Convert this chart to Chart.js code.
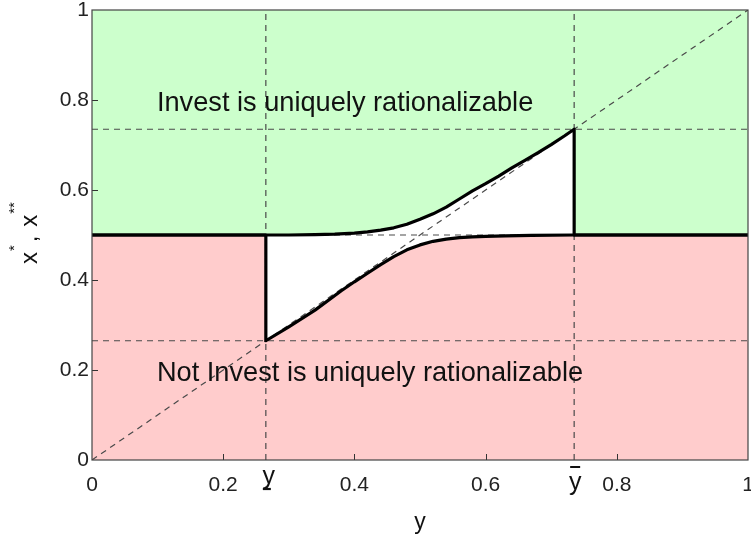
<!DOCTYPE html>
<html>
<head>
<meta charset="utf-8">
<script src="https://cdn.jsdelivr.net/npm/chart.js@4/dist/chart.umd.min.js"></script>
<style>
  html, body { margin: 0; padding: 0; background: #ffffff; }
  #wrap { width: 751px; height: 538px; position: relative; }
</style>
</head>
<body>
<div id="wrap"><canvas id="c" width="751" height="538"></canvas></div>
<script>
// ---- data ----
const Y_LOW = 0.265;    // y underbar
const Y_HIGH = 0.735;   // y overbar
const MID = 0.5;

// upper threshold x** (green region above)
const upperX = [0, 0.265, 0.30, 0.34, 0.37, 0.40, 0.42, 0.44, 0.46, 0.48, 0.50, 0.52, 0.54, 0.56, 0.58, 0.60, 0.62, 0.64, 0.66, 0.68, 0.70, 0.72, 0.735, 0.735, 1];
const upperY = [0.5, 0.5, 0.5, 0.501, 0.502, 0.504, 0.507, 0.511, 0.516, 0.524, 0.535, 0.547, 0.562, 0.580, 0.598, 0.614, 0.631, 0.649, 0.666, 0.683, 0.701, 0.720, 0.735, 0.5, 0.5];

// lower threshold x* (red region below)
const lowerX = [0, 0.265, 0.265, 0.30, 0.34, 0.38, 0.40, 0.42, 0.44, 0.46, 0.48, 0.50, 0.52, 0.54, 0.56, 0.58, 0.60, 0.63, 0.67, 0.735, 1];
const lowerY = [0.5, 0.5, 0.265, 0.296, 0.333, 0.376, 0.396, 0.415, 0.434, 0.452, 0.467, 0.478, 0.486, 0.491, 0.494, 0.496, 0.497, 0.498, 0.499, 0.5, 0.5];

const diagX = [0, 1];
const diagY = [0, 1];

const tickValues = [0, 0.2, 0.4, 0.6, 0.8, 1];
const tickLabels = ['0', '0.2', '0.4', '0.6', '0.8', '1'];

const textInvest = 'Invest is uniquely rationalizable';
const textNotInvest = 'Not Invest is uniquely rationalizable';
const textInvestPos = [0.099, 0.793];
const textNotInvestPos = [0.099, 0.192];
const xTitle = 'y';

// ---- helpers ----
const pts = (xs, ys) => xs.map((x, i) => ({x: x, y: ys[i]}));
const GREEN = '#ccffcc';
const PINK = '#ffcccc';
const DASH = '#4a4a4a';

function dashedDs(data) {
  return {
    data: data, showLine: true, borderColor: DASH, borderWidth: 1.2,
    borderDash: [6, 5], pointRadius: 0, fill: false, tension: 0, order: 2
  };
}

const datasets = [
  {
    label: 'x**', data: pts(upperX, upperY), showLine: true,
    borderColor: '#000', borderWidth: 3.2, pointRadius: 0, tension: 0,
    borderJoinStyle: 'round',
    fill: 'end', backgroundColor: GREEN, order: 0
  },
  {
    label: 'x*', data: pts(lowerX, lowerY), showLine: true,
    borderColor: '#000', borderWidth: 3.2, pointRadius: 0, tension: 0,
    borderJoinStyle: 'round',
    fill: 'start', backgroundColor: PINK, order: 0
  },
  dashedDs(pts(diagX, diagY)),
  dashedDs([{x: 0, y: Y_HIGH}, {x: 1, y: Y_HIGH}]),
  dashedDs([{x: 0, y: Y_LOW}, {x: 1, y: Y_LOW}]),
  dashedDs([{x: 0, y: MID}, {x: 1, y: MID}]),
  dashedDs([{x: Y_LOW, y: 0}, {x: Y_LOW, y: 1}]),
  dashedDs([{x: Y_HIGH, y: 0}, {x: Y_HIGH, y: 1}])
];

const FONT = "'Liberation Sans', Arial, sans-serif";

const decor = {
  id: 'decor',
  afterDatasetsDraw(chart) {
    const ctx = chart.ctx;
    const a = chart.chartArea;
    const xs = chart.scales.x, ys = chart.scales.y;
    ctx.save();
    // inward ticks
    ctx.strokeStyle = '#333';
    ctx.lineWidth = 1;
    tickValues.slice(1, -1).forEach(v => {
      const px = Math.round(xs.getPixelForValue(v)) + 0.5;
      ctx.beginPath(); ctx.moveTo(px, a.bottom); ctx.lineTo(px, a.bottom - 6); ctx.stroke();
      const py = Math.round(ys.getPixelForValue(v)) + 0.5;
      ctx.beginPath(); ctx.moveTo(a.left, py); ctx.lineTo(a.left + 6, py); ctx.stroke();
    });
    // box
    ctx.strokeStyle = '#444';
    ctx.lineWidth = 1.2;
    ctx.strokeRect(a.left, a.top, a.right - a.left, a.bottom - a.top);
    // annotations
    ctx.fillStyle = '#111';
    ctx.font = '27.2px ' + FONT;
    ctx.textBaseline = 'middle';
    ctx.textAlign = 'left';
    ctx.fillText(textInvest, xs.getPixelForValue(textInvestPos[0]), ys.getPixelForValue(textInvestPos[1]));
    ctx.fillText(textNotInvest, xs.getPixelForValue(textNotInvestPos[0]), ys.getPixelForValue(textNotInvestPos[1]));
    ctx.restore();
  },
  afterDraw(chart) {
    const ctx = chart.ctx;
    const a = chart.chartArea;
    const xs = chart.scales.x;
    ctx.save();
    ctx.fillStyle = '#111';
    ctx.strokeStyle = '#111';
    // special x labels
    ctx.font = '25px ' + FONT;
    ctx.textAlign = 'center';
    ctx.textBaseline = 'alphabetic';
    const pLow = xs.getPixelForValue(Y_LOW);
    const pHigh = xs.getPixelForValue(Y_HIGH);
    ctx.fillText('y', pLow + 3, a.bottom + 24);
    ctx.lineWidth = 2.2;
    ctx.beginPath(); ctx.moveTo(pLow - 3, a.bottom + 29); ctx.lineTo(pLow + 5, a.bottom + 29); ctx.stroke();
    ctx.fillText('y', pHigh + 1, a.bottom + 30);
    ctx.lineWidth = 2;
    ctx.beginPath(); ctx.moveTo(pHigh - 4, a.bottom + 7); ctx.lineTo(pHigh + 6, a.bottom + 7); ctx.stroke();
    // x title
    ctx.font = '23px ' + FONT;
    ctx.fillText(xTitle, (a.left + a.right) / 2, 529);
    // y title: x*, x** rotated
    ctx.translate(37, 264);
    ctx.rotate(-Math.PI / 2);
    ctx.textAlign = 'left';
    ctx.textBaseline = 'alphabetic';
    const big = '24px ' + FONT, small = '15px ' + FONT;
    let u = 0;
    ctx.font = big; ctx.fillText('x', u, 0); u += ctx.measureText('x').width + 1;
    ctx.font = small; ctx.textBaseline = 'middle'; ctx.fillText('*', u, -22); u += ctx.measureText('*').width + 3;
    ctx.font = big; ctx.textBaseline = 'alphabetic'; ctx.fillText(',', u, 0); u += ctx.measureText(', ').width + 2;
    ctx.fillText('x', u, 0); u += ctx.measureText('x').width + 1;
    ctx.font = small; ctx.textBaseline = 'middle'; ctx.fillText('**', u, -22);
    ctx.restore();
  }
};

function noPad(s) {
  s.paddingLeft = 0; s.paddingRight = 0; s.paddingTop = 0; s.paddingBottom = 0;
}

new Chart(document.getElementById('c'), {
  type: 'scatter',
  data: { datasets: datasets },
  options: {
    responsive: false,
    animation: false,
    devicePixelRatio: 1,
    layout: { padding: { top: 10, right: 3, left: 0, bottom: 0 } },
    plugins: {
      legend: { display: false },
      tooltip: { enabled: false },
      filler: { drawTime: 'beforeDatasetsDraw', propagate: false }
    },
    scales: {
      x: {
        type: 'linear', min: 0, max: 1,
        afterBuildTicks: s => { s.ticks = tickValues.map(v => ({value: v})); },
        ticks: {
          callback: (v, i) => tickLabels[i],
          font: { size: 21, family: FONT }, color: '#222', padding: 13,
          maxRotation: 0, autoSkip: false
        },
        grid: { display: false, drawTicks: false },
        border: { display: false },
        afterFit: s => { s.height = 78; noPad(s); }
      },
      y: {
        type: 'linear', min: 0, max: 1,
        afterBuildTicks: s => { s.ticks = tickValues.map(v => ({value: v})); },
        ticks: {
          callback: (v, i) => tickLabels[i],
          font: { size: 21, family: FONT }, color: '#222', padding: 3,
          autoSkip: false
        },
        grid: { display: false, drawTicks: false },
        border: { display: false },
        afterFit: s => { s.width = 92; noPad(s); }
      }
    }
  },
  plugins: [decor]
});
</script>
</body>
</html>
